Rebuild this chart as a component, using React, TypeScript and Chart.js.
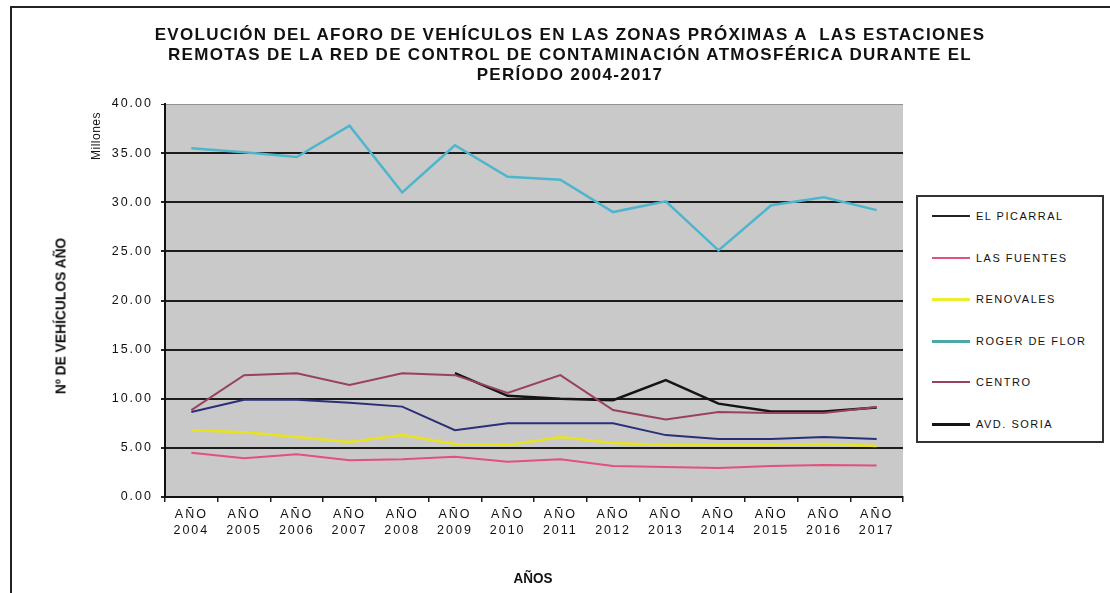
import React, { useEffect, useRef } from 'react';
import { Chart, registerables } from 'chart.js';

Chart.register(...registerables);

const years = ['2004', '2005', '2006', '2007', '2008', '2009', '2010', '2011', '2012', '2013', '2014', '2015', '2016', '2017'];
const categories = years.map((y) => ['AÑO', y]);

const elPicarral = [8.65, 9.9, 9.9, 9.6, 9.2, 6.8, 7.5, 7.5, 7.5, 6.3, 5.9, 5.9, 6.1, 5.9];
const lasFuentes = [4.5, 3.95, 4.35, 3.75, 3.85, 4.1, 3.6, 3.85, 3.15, 3.05, 2.95, 3.15, 3.25, 3.2];
const renovales = [6.8, 6.6, 6.1, 5.6, 6.3, 5.4, 5.3, 6.1, 5.5, 5.3, 5.3, 5.3, 5.4, 5.2];
const rogerDeFlor = [35.5, 35.1, 34.6, 37.8, 31.0, 35.8, 32.6, 32.3, 29.0, 30.1, 25.1, 29.7, 30.5, 29.2];
const centro = [8.85, 12.4, 12.6, 11.4, 12.6, 12.4, 10.6, 12.4, 8.85, 7.9, 8.65, 8.55, 8.55, 9.15];
const avdSoria = [null, null, null, null, null, 12.6, 10.3, 10.0, 9.85, 11.9, 9.5, 8.7, 8.7, 9.1];

const yMin = 0;
const yMax = 40;
const yStep = 5;

const seriesNames = ['EL PICARRAL', 'LAS FUENTES', 'RENOVALES', 'ROGER DE FLOR', 'CENTRO', 'AVD. SORIA'];
const seriesColors = ['#2b2f78', '#e2507c', '#e9e21e', '#4db6cc', '#9a4060', '#141414'];
const seriesLegendColors = ['#222222', '#e2507c', '#eeee30', '#4aa8a8', '#9a4060', '#141414'];
const seriesWidths = [2, 2, 2.5, 2.5, 2, 2.5];
const seriesValues = [elPicarral, lasFuentes, renovales, rogerDeFlor, centro, avdSoria];

const titleLines = [
  'EVOLUCIÓN DEL AFORO DE VEHÍCULOS EN LAS ZONAS PRÓXIMAS A  LAS ESTACIONES',
  'REMOTAS DE LA RED DE CONTROL DE CONTAMINACIÓN ATMOSFÉRICA DURANTE EL',
  'PERÍODO 2004-2017',
];

const FONT = 'Liberation Sans, Arial, Helvetica, sans-serif';

const bgPlugin = {
  id: 'plotBg',
  beforeDraw(chart: any) {
    const { ctx, chartArea } = chart;
    ctx.save();
    ctx.fillStyle = '#c9c9c9';
    ctx.fillRect(chartArea.left, chartArea.top, chartArea.right - chartArea.left, chartArea.bottom - chartArea.top);
    ctx.restore();
    (ctx as any).letterSpacing = '2px';
  },
  afterDraw(chart: any) {
    (chart.ctx as any).letterSpacing = '0px';
  },
};

export default function App() {
  const ref = useRef<HTMLCanvasElement | null>(null);

  useEffect(() => {
    if (!ref.current) return;
    const chart = new Chart(ref.current, {
      type: 'line',
      data: {
        labels: categories,
        datasets: seriesNames.map((name, i) => ({
          label: name,
          data: seriesValues[i],
          borderColor: seriesColors[i],
          backgroundColor: seriesColors[i],
          borderWidth: seriesWidths[i],
          pointRadius: 0,
          tension: 0,
          spanGaps: false,
          fill: false,
        })),
      },
      options: {
        responsive: false,
        animation: false,
        devicePixelRatio: 1,
        layout: { padding: { top: 104, right: 207, left: 0, bottom: 0 } },
        plugins: {
          legend: { display: false },
          title: { display: false },
          tooltip: { enabled: false },
        },
        scales: {
          x: {
            type: 'category',
            offset: true,
            grid: {
              offset: true,
              drawOnChartArea: false,
              drawTicks: true,
              tickLength: 5,
              tickColor: '#222',
              lineWidth: 1.5,
            },
            border: { display: true, color: '#111', width: 2 },
            ticks: {
              font: { family: FONT, size: 12.5, lineHeight: 1.3 },
              color: '#111',
              padding: 4,
              maxRotation: 0,
              autoSkip: false,
            },
            afterFit: (s: any) => {
              s.height = 96;
            },
          },
          y: {
            min: yMin,
            max: yMax,
            ticks: {
              stepSize: yStep,
              callback: (v: any) => Number(v).toFixed(2),
              font: { family: FONT, size: 12.5 },
              color: '#111',
              padding: 8,
            },
            grid: {
              color: (ctx: any) => (ctx.tick && ctx.tick.value === yMax ? 'rgba(90,90,90,0.5)' : '#1c1c1c'),
              lineWidth: (ctx: any) => (ctx.tick && ctx.tick.value === yMax ? 1 : 2),
              tickLength: 4,
              tickColor: '#222',
            },
            border: { display: true, color: '#111', width: 2 },
            afterFit: (s: any) => {
              s.width = 165;
            },
          },
        },
      } as any,
      plugins: [bgPlugin],
    });
    return () => chart.destroy();
  }, []);

  return (
    <div style={{ position: 'fixed', left: 0, top: 0, width: 1110, height: 593, background: '#fff', overflow: 'hidden', fontFamily: FONT }}>
      <div style={{ position: 'absolute', left: 10, top: 6, width: 1200, height: 700, border: '2px solid #222', boxSizing: 'border-box' }} />
      <canvas ref={ref} width={1110} height={593} style={{ position: 'absolute', left: 0, top: 0, width: 1110, height: 593 }} />
      <div style={{ position: 'absolute', left: 70, top: 25, width: 1000, textAlign: 'center', fontWeight: 'bold', fontSize: 17, lineHeight: '20px', letterSpacing: '1.3px', color: '#111' }}>
        {titleLines.map((t, i) => (
          <div key={i} style={{ whiteSpace: 'pre' }}>{t}</div>
        ))}
      </div>
      <div style={{ position: 'absolute', left: 60, top: 316, transform: 'translate(-50%,-50%) rotate(-90deg) scaleX(0.92)', fontWeight: 'bold', fontSize: 15, whiteSpace: 'nowrap', color: '#111' }}>
        Nº DE VEHÍCULOS AÑO
      </div>
      <div style={{ position: 'absolute', left: 96, top: 136, transform: 'translate(-50%,-50%) rotate(-90deg)', fontSize: 12, letterSpacing: '0.5px', whiteSpace: 'nowrap', color: '#111' }}>
        Millones
      </div>
      <div style={{ position: 'absolute', left: 533, top: 577, transform: 'translate(-50%,-50%) scaleX(0.9)', fontWeight: 'bold', fontSize: 15, whiteSpace: 'nowrap', color: '#111' }}>
        AÑOS
      </div>
      <div style={{ position: 'absolute', left: 916, top: 195, width: 188, height: 248, border: '2px solid #333', boxSizing: 'border-box', background: '#fff' }}>
        {seriesNames.map((name, i) => (
          <div key={name} style={{ position: 'absolute', left: 0, top: 19 + i * 41.6, height: 0 }}>
            <div style={{ position: 'absolute', left: 14, top: -1, width: 38, height: seriesWidths[i] >= 2.5 ? 3 : 2, background: seriesLegendColors[i] }} />
            <div style={{ position: 'absolute', left: 58, top: -7, fontSize: 11, lineHeight: '14px', letterSpacing: '1.5px', whiteSpace: 'nowrap', color: '#111' }}>
              {name}
            </div>
          </div>
        ))}
      </div>
    </div>
  );
}
